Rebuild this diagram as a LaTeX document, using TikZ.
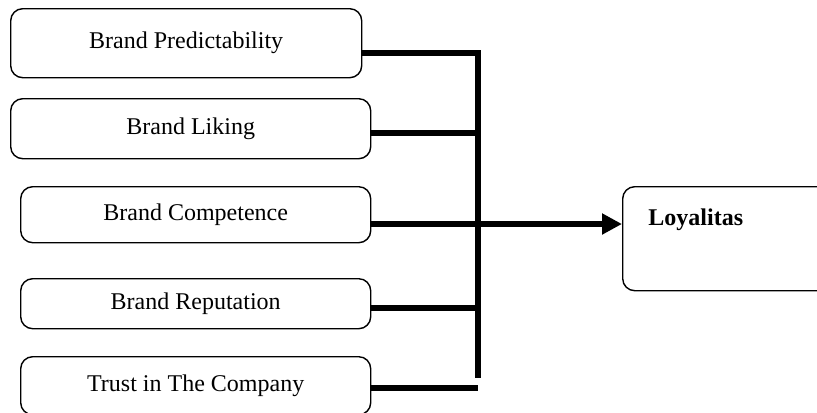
\documentclass[tikz,border=0pt]{standalone}
\usepackage{fontspec}
\setmainfont{Liberation Serif}
\usetikzlibrary{arrows.meta}

\begin{document}
\begin{tikzpicture}[x = 0.5pt, y = -0.5pt,
                        box/.style = {rectangle, draw, rounded corners = 6pt, line width = 0.7pt,
                                      anchor = north west, inner sep = 0pt,
                                      font = \fontsize{12}{14}\selectfont},
                        bus/.style = {line width = 3pt}]
    \clip (0, 0) rectangle (817, 412);
    \node [box, minimum width = 175.5pt, minimum height = 34.5pt] (pred) at (10, 8){Brand Predictability};
    \node [box, minimum width = 180pt, minimum height = 30pt] (lik) at (10, 98){Brand Liking};
    \node [box, minimum width = 175pt, minimum height = 28pt] (comp) at (20, 186){Brand Competence};
    \node [box, minimum width = 175pt, minimum height = 25pt] (rep) at (20, 278){Brand Reputation};
    \node [box, minimum width = 175pt, minimum height = 29pt] (trust) at (20, 356){Trust in The Company};
    \node [box, minimum width = 105pt, minimum height = 52pt] (loy) at (622, 186){};
    \node [anchor = base west, inner sep = 0pt, font = \fontsize{12}{14}\selectfont\bfseries] (loytext) at (648, 225){Loyalitas};
    \coordinate (j1) at (478, 53);
    \coordinate (j2) at (478, 133);
    \coordinate (j3) at (478, 224);
    \coordinate (j4) at (478, 308);
    \coordinate (j5) at (478, 388);
    \coordinate (jend) at (478, 378);
    \draw [bus] (pred.east |- j1) -- (j1) -- (jend);
    \draw [bus] (lik.east |- j2) -- (j2);
    \draw [bus,-{Triangle[length=10pt,width=10pt]}] (comp.east |- j3) -- (j3) -- (loy.west |- j3);
    \draw [bus] (rep.east |- j4) -- (j4);
    \draw [bus] (trust.east |- j5) -- (j5);
  \end{tikzpicture}
\end{document}
